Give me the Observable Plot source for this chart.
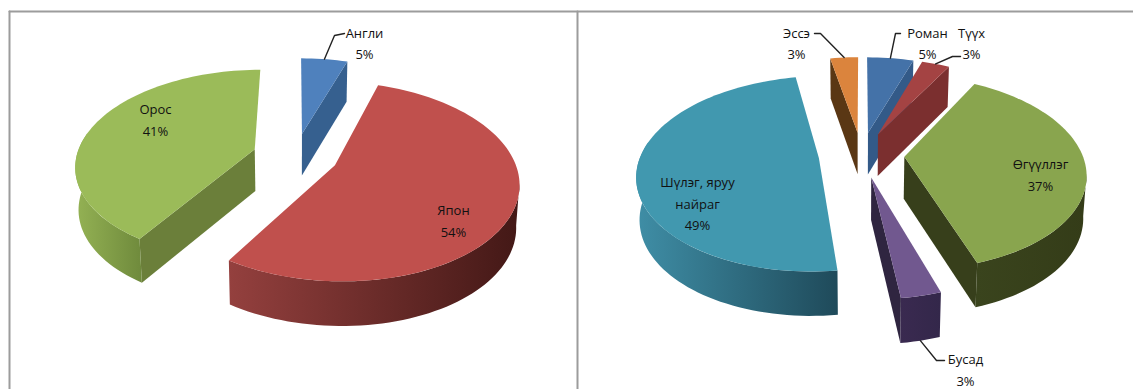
<!DOCTYPE html>
<html>
<head>
<meta charset="utf-8">
<style>
  html, body { margin: 0; padding: 0; background: #fff; overflow: hidden; }
  svg { display: block; }
</style>
<script src="https://cdn.jsdelivr.net/npm/d3@7"></script>
<script src="https://cdn.jsdelivr.net/npm/@observablehq/plot@0.6"></script>
</head>
<body>
<script>
// Language of origin
const languageLabels = ["Англи", "Япон", "Орос"];
const languageShares = [5, 54, 41];

// Literary genre
const genreLabels = ["Роман", "Түүх", "Өгүүллэг", "Бусад", "Шүлэг, яруу\nнайраг", "Эссэ"];
const genreShares = [5, 3, 37, 3, 49, 3];

// Face colours: top, cut side, rim gradient start and end
const languageTop  = ["#4f81bd", "#c0504d", "#9bbb59"];
const languageCut  = ["#36608f", "#8a3432", "#6b7f3a"];
const languageRimA = ["#36608f", "#94403e", "#94b254"];
const languageRimB = ["#36608f", "#431816", "#6f8a3c"];

const genreTop  = ["#4472a8", "#a44343", "#89a54e", "#71588f", "#4198af", "#db843d"];
const genreCut  = ["#335a88", "#7b2f2f", "#373f1b", "#2f2540", "#2a6070", "#5a3714"];
const genreRimA = ["#335a88", "#7b2f2f", "#3a441d", "#3a2a50", "#3f8ea6", "#5a3714"];
const genreRimB = ["#335a88", "#7b2f2f", "#343c18", "#33274a", "#1f4a5a", "#5a3714"];

// Label placement and leader elbows
const languageLabelAt = [[364, 41], [453, 218.5], [155, 117.5]];
const languageLeaders = [[[334, 35], [344, 33]], null, null];
const genreLabelAt = [[927, 41], [971, 41], [1040, 172.5], [965, 367.5], [697, 201.5], [796, 41]];
const genreLeaders = [[[895, 33], [900, 33]], [[952, 56], [960, 56]], null, [[936, 360], [944, 360]], null, [[820, 33], [814, 33]]];

// Pie projection
const rx = 178, ry = 94, tilt = 0.16, depth = 42, burst = 0.241, sink = 0.985;
const rad = Math.PI / 180;

const faces = [], labels = [], leaders = [], gradients = [];

function addPie({names, shares, top, cut, rimA, rimB, labelAt, elbows, cx, cy, id}) {
  const total = d3.sum(shares);
  let acc = 0;
  const slices = shares.map((share, i) => {
    const a0 = acc / total * 360;
    acc += share;
    const a1 = acc / total * 360;
    return {i, a0, a1, mid: (a0 + a1) / 2};
  });

  const project = (s, a, r, low) => {
    const ou = burst * Math.sin(s.mid * rad), ov = burst * Math.cos(s.mid * rad);
    const u = ou + r * Math.sin(a * rad), v = ov + r * Math.cos(a * rad);
    const k = 1 / (1 + tilt * v);
    let x = rx * u * k, y = -ry * v * k;
    if (low) { x *= sink; y = y * sink + depth * (0.5 + 0.5 * k); }
    return [cx + x, cy + y];
  };
  const arc = (s, from, to, low) => {
    const n = Math.max(2, Math.ceil(Math.abs(to - from) / 2));
    return d3.range(n + 1).map(j => project(s, from + (to - from) * j / n, 1, low));
  };
  const push = (key, points, paint) => points.forEach(([x, y]) => faces.push({key, x, y, paint}));

  // Farther slices go down first so nearer ones overlap them.
  const order = slices.slice().sort((p, q) => Math.cos(q.mid * rad) - Math.cos(p.mid * rad));
  for (const s of order) {
    const key = `${id}-${s.i}`;
    const apex = project(s, 0, 0), apexLow = project(s, 0, 0, true);
    const inner = project(s, s.mid, 0.5);

    for (const a of [s.a0, s.a1]) {
      const rim = project(s, a, 1);
      const e = [rim[0] - apex[0], rim[1] - apex[1]];
      // A cut side nearly edge-on, or facing away, stays hidden.
      if (Math.abs(e[0]) < 0.1 * Math.abs(e[1])) continue;
      const side = e[0] * (inner[1] - apex[1]) - e[1] * (inner[0] - apex[0]);
      if (e[0] * side > 0) continue;
      push(`${key}-cut${a}`, [apex, rim, project(s, a, 1, true), apexLow], cut[s.i]);
    }

    const from = Math.max(s.a0, 100), to = Math.min(s.a1, 280);
    if (to > from) {
      const gid = `rim-${key}`;
      gradients.push({gid, a: rimA[s.i], b: rimB[s.i]});
      push(`${key}-rim`, [...arc(s, from, to), ...arc(s, to, from, true)], `url(#${gid})`);
    }

    push(`${key}-top`, [apex, ...arc(s, s.a0, s.a1)], top[s.i]);

    const [lx, ly] = labelAt[s.i];
    labels.push({x: lx, y: ly, text: `${names[s.i]}\n${shares[s.i]}%`});

    if (elbows[s.i]) {
      const low = Math.cos(s.mid * rad) < 0;
      const start = project(s, s.mid, 1, low);
      [start, ...elbows[s.i]].forEach(([x, y]) => leaders.push({key, x, y}));
    }
  }
}

addPie({names: languageLabels, shares: languageShares, top: languageTop, cut: languageCut,
  rimA: languageRimA, rimB: languageRimB, labelAt: languageLabelAt, elbows: languageLeaders,
  cx: 295, cy: 155, id: "language"});
addPie({names: genreLabels, shares: genreShares, top: genreTop, cut: genreCut,
  rimA: genreRimA, rimB: genreRimB, labelAt: genreLabelAt, elbows: genreLeaders,
  cx: 861, cy: 154, id: "genre"});

// Panel frame
const frame = [
  {key: "top", x: 9, y: 11}, {key: "top", x: 1133, y: 11},
  {key: "left", x: 9, y: 11}, {key: "left", x: 9, y: 389},
  {key: "middle", x: 577, y: 11}, {key: "middle", x: 577, y: 389}
];

const defs = () => {
  const d = d3.create("svg:defs");
  const g = d.selectAll("linearGradient").data(gradients).join("linearGradient").attr("id", v => v.gid);
  g.append("stop").attr("offset", 0).attr("stop-color", v => v.a);
  g.append("stop").attr("offset", 1).attr("stop-color", v => v.b);
  return d.node();
};

const chart = Plot.plot({
  width: 1133,
  height: 389,
  margin: 0,
  style: {background: "#fff"},
  x: {type: "identity", axis: null},
  y: {type: "identity", axis: null},
  color: {type: "identity"},
  marks: [
    defs,
    Plot.line(frame, {x: "x", y: "y", z: "key", stroke: "#9c9c9c", strokeWidth: 2}),
    Plot.line(faces, {x: "x", y: "y", z: "key", fill: "paint"}),
    Plot.line(leaders, {x: "x", y: "y", z: "key", stroke: "#222", strokeWidth: 1.4}),
    Plot.text(labels, {x: "x", y: "y", text: "text", lineHeight: 1.65, fontSize: 13,
      fontFamily: "'Open Sans', sans-serif", fill: "#111", textAnchor: "middle"})
  ]
});
document.body.append(chart);
</script>
</body>
</html>
